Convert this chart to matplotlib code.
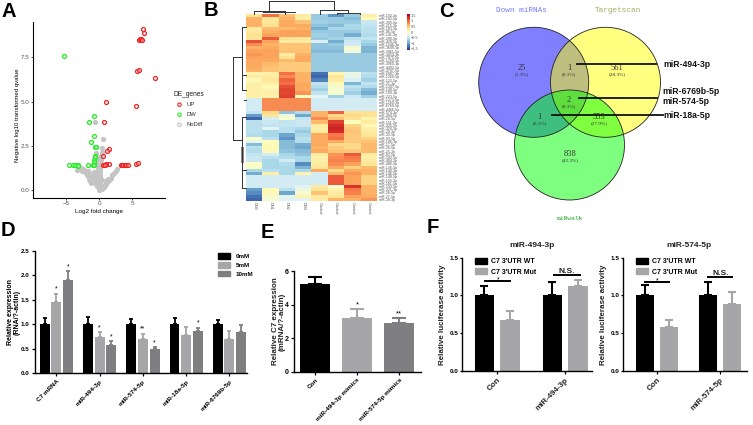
import numpy as np
import matplotlib
matplotlib.use("Agg")
import matplotlib.pyplot as plt
from matplotlib.patches import Circle, Patch

plt.rcParams["font.family"] = ["Liberation Sans", "DejaVu Sans"]

W, H = 753, 425
BLACK = "#000000"
GREY1 = "#a6a6a9"
GREY2 = "#7f7f82"

# panel A
up_x = [6.6, 6.8, 6.0, 6.2, 6.4, 6.5, 5.8, 6.05, 8.5, 1.0, 5.65, 0.75, 1.55, 1.15, 0.65, 1.5, 1.1, 0.8,
        0.6, 0.95, 5.55, 5.9, 3.3, 3.5, 3.7, 3.9, 4.1, 4.4]
up_y = [9.08, 8.85, 8.5, 8.55, 8.55, 8.5, 6.73, 6.78, 6.35, 5.0, 4.76, 3.87, 2.3, 2.2, 1.9, 1.5, 1.45, 1.43,
        1.43, 1.43, 1.48, 1.55, 1.43, 1.43, 1.43, 1.43, 1.43, 1.43]
dw_x = [-5.25, -0.8, -1.5, -0.8, -1.2, -0.6, -0.5, -0.6, -0.65, -0.7, -0.75, -4.5, -3.9, -3.6, -3.2, -3.15,
        -1.65, -0.85, -0.75]
dw_y = [7.57, 4.2, 3.87, 3.05, 2.7, 2.43, 2.43, 1.9, 1.85, 1.7, 1.6, 1.43, 1.43, 1.43, 1.43, 1.35,
        1.43, 1.43, 1.43]
no_x = [-0.55, 0.6, 0.4, 0.4, 0.35, -0.5, -0.55, 0.2, 0.1, 0.3, -0.2, -0.1, 0.05, 0.15, -0.25, 0.0, 0.1, -0.15,
        0.2, -0.05, 0.05, -0.1, 0.15, 0.0, -0.2, 0.1, 0.25, -0.05, 0.0, 0.1, -0.15, 0.05, 0.15, 0.0, 0.1, 0.05,
        -3.4, -3.0, -2.7, -2.5, -2.3, -2.2, -2.0, -1.9, -1.8, -1.7, -1.5, -1.4, -1.3, -1.35, -1.2, -1.5, -1.6,
        -2.6, -2.1, -1.7, -1.55, -1.25, -1.1, -0.95,
        -0.8, -0.7, -0.65, -0.6, -0.5, -0.4, -0.3,
        2.8, 2.5, 2.3, 2.15, 2.0, 1.85, 1.7, 1.5, 1.3, 1.2, 1.1, 1.0, 0.9, 0.8, 0.7, 0.6, 0.5, 0.4, 0.9, 1.2, 1.4]
no_y = [3.87, 2.9, 2.35, 2.15, 1.95, 2.1, 1.95, 1.85, 1.75, 1.7, 1.65, 1.55, 1.5, 1.45, 1.35, 1.3, 1.2, 1.15,
        1.1, 1.05, 0.95, 0.9, 0.85, 0.8, 0.75, 0.7, 0.65, 0.6, 0.5, 0.45, 0.4, 0.35, 0.3, 0.2, 0.1, 0.03,
        1.15, 1.2, 1.25, 1.2, 1.15, 1.05, 1.0, 0.95, 0.85, 0.8, 0.75, 0.65, 0.6, 0.5, 0.4, 0.95, 1.05,
        1.05, 1.1, 1.0, 0.6, 0.75, 0.55, 0.45,
        1.0, 0.85, 0.7, 0.55, 0.45, 0.35, 0.25,
        1.2, 1.05, 0.95, 0.9, 0.85, 0.7, 0.6, 0.55, 0.5, 0.45, 0.4, 0.35, 0.3, 0.25, 0.2, 0.15, 0.12, 0.08, 0.5, 0.55, 0.65]

# panel B
heat_rows = [
    [.25, .95, .5, .2, -.75, -1.1, -.75, .15],
    [.6, .25, .6, .15, -.75, -.75, -.85, .05],
    [.6, .25, .65, .5, -.7, -.75, -.75, -.45],
    [.6, .3, .65, .65, -.8, -.85, -.65, -.5],
    [.2, .55, .55, .6, -.95, -.65, -.65, -.55],
    [.2, .6, .7, .7, -.75, -.75, -.75, -.55],
    [.3, .7, .7, .7, -.7, -.75, -.95, -.6],
    [.25, 1.05, .3, .25, -.75, -.7, -.55, -.5],
    [1.1, .7, .2, .2, -.35, -.95, -.45, -.65],
    [.8, .6, .5, .5, -.8, -.75, -.4, -.75],
    [.6, .65, .5, .5, -.8, -.8, -.1, -.9],
    [.7, .7, .5, .5, -.85, -.85, -.15, -.9],
    [.75, .7, .2, .6, -.75, -.75, -.75, -.75],
    [.7, .7, .3, .65, -.75, -.75, -.75, -.75],
    [.65, .65, .55, .65, -.75, -.75, -.75, -.75],
    [.65, .55, .45, .45, -.75, -.75, -.75, -.75],
    [.65, .5, .45, .45, -.75, -.75, -.75, -.75],
    [.6, .5, .45, .45, -.75, -.75, -.75, -.75],
    [.1, .15, .95, .6, -1.3, .1, -.2, -.55],
    [.2, .2, .8, .6, -1.35, .25, -.25, -.6],
    [.05, .25, 1.0, .6, -1.2, .2, -.35, -.7],
    [.15, .15, .95, .65, -.5, .05, -.9, -.5],
    [.15, .05, 1.1, .65, -.6, -.1, -.55, -.6],
    [.15, .1, 1.15, .65, -.7, -.1, -.6, -.85],
    [.15, .15, 1.15, .75, -.5, -.1, -.7, -.95],
    [.15, .1, 1.2, .0, -.3, -.7, -.45, -.7],
    [-.4, .8, .8, .8, -.4, -.4, -.4, -.4],
    [-.4, .8, .8, .8, -.4, -.4, -.4, -.4],
    [-.4, .8, .8, .8, -.4, -.4, -.4, -.4],
    [-.4, .8, .8, .8, -.4, -.4, -.4, -.4],
    [-.5, .35, -.8, -.6, .6, 1.0, .3, .3],
    [-1.05, .25, -.2, -1.0, .6, .35, .35, .3],
    [-1.35, -.4, -.05, -.5, .8, .5, .3, .1],
    [-.55, -.45, -.5, -.45, .55, 1.2, .0, .2],
    [-.55, -.5, -.5, -.45, .2, 1.3, .4, .05],
    [-.55, -.3, -.55, -.65, .15, 1.35, .45, .15],
    [-.55, -.65, -.55, -.75, .2, 1.3, .5, .2],
    [-.6, -.65, -1.0, -.65, .65, .9, .45, .25],
    [-.05, -.55, -1.1, -.55, .65, .95, .45, .4],
    [-.25, .0, -.85, -.6, .65, .65, .45, .5],
    [-.85, .05, -.85, -.95, .65, .35, .35, .55],
    [-.55, .05, -.85, -1.0, .6, .45, .35, .55],
    [-.6, .05, -.8, -.85, .65, .5, .45, .55],
    [-.5, -.4, -.65, -.8, .2, .75, 1.05, .2],
    [-.45, -.55, -.6, -.65, .15, .8, .9, .15],
    [-.45, -.65, -.4, -.65, .15, .85, .85, .2],
    [-.05, -.65, -.6, -1.15, .2, .8, .7, .25],
    [-.05, -.65, -.65, -.9, .25, .65, .4, .55],
    [-.65, -.55, -.65, -.65, .65, .35, .65, .6],
    [-.95, .15, -.65, .1, -.4, .55, .75, .6],
    [-.4, -.4, -.4, -.4, -.4, 1.05, .7, .4],
    [-.4, -.4, -.4, -.4, -.4, 1.05, .7, .4],
    [-.4, -.4, -.4, -.4, -.4, 1.05, .7, .4],
    [-.4, -.4, -.4, -.3, .2, -.1, 1.25, .6],
    [-1.05, .05, -.55, -.2, .25, .1, .9, .6],
    [-1.15, .05, -1.0, -.1, .5, .2, .85, .6],
    [-1.3, -.1, -.3, .1, .2, .25, .7, .65],
    [-1.35, -.1, -.3, -.3, .2, .6, .6, .75],
]
heat_cols = ["DN3", "DN1", "DN2", "DN4", "Control", "Control", "Control", "Control"]
mirna_nums = [192, 182, 205, 215, 183, 96, 141, 200, 429, 1246, 3609, 2861, 4454, 7975, 1290, 3960, 4492, 4787,
              6087, 1268, 122, 21, 1307, 149, 199, 223, 1273, 1260, 6769, 4466, 574, 494, 18, 151, 425, 320,
              29, 30, 93, 106, 17, 20, 25, 92, 342, 484, 486, 126, 140, 146, 148, 155, 181, 193, 221, 26, 27, 28]
heat_names = [f"miR-{n}-{'3p' if i % 3 == 0 else '5p'}" for i, n in enumerate(mirna_nums)]
cbar_ticks = [1.5, 1, 0.5, 0, -0.5, -1, -1.5]

# panel C
venn_labels = ["25", "1", "561", "2", "1", "553", "838"]
venn_pcts = ["(1.3%)", "(0.1%)", "(28.3%)", "(0.1%)", "(0.1%)", "(27.9%)", "(42.3%)"]

# panel D
d_groups = ["C7 mRNA", "miR-494-3p", "miR-574-5p", "miR-18a-5p", "miR-6769b-5p"]
d_doses = ["0mM", "5mM", "10mM"]
d_vals = [[1.0, 1.46, 1.9], [1.0, 0.75, 0.58], [1.0, 0.7, 0.49], [1.0, 0.79, 0.87], [1.0, 0.69, 0.85]]
d_errs = [[0.12, 0.16, 0.18], [0.15, 0.09, 0.07], [0.1, 0.11, 0.04], [0.12, 0.15, 0.06], [0.09, 0.18, 0.14]]
d_stars = [["", "*", "*"], ["", "*", "*"], ["", "**", "*"], ["", "", "*"], ["", "", ""]]

# panel E
e_names = ["Con", "miR-494-3p mimics", "miR-574-5p mimics"]
e_vals = [5.25, 3.2, 2.9]
e_errs = [0.4, 0.55, 0.3]
e_stars = ["", "*", "**"]

# panel F
f1_names = ["Con", "miR-494-3p"]
f1_wt = [1.0, 1.0]
f1_wt_err = [0.12, 0.18]
f1_mut = [0.68, 1.12]
f1_mut_err = [0.11, 0.09]
f2_names = ["Con", "miR-574-5p"]
f2_wt = [1.0, 1.0]
f2_wt_err = [0.14, 0.18]
f2_mut = [0.58, 0.89]
f2_mut_err = [0.1, 0.15]

fig = plt.figure(figsize=(W / 100, H / 100), dpi=100)


def px_axes(left, top, right, bottom):
    return fig.add_axes([left / W, 1 - bottom / H, (right - left) / W, (bottom - top) / H])


over = fig.add_axes([0, 0, 1, 1], zorder=5)
over.set_xlim(0, W)
over.set_ylim(H, 0)
over.axis("off")

for letter, lx, ly in [("A", 1, 11), ("B", 204, 10), ("C", 439, 11), ("D", 1, 230), ("E", 261, 232), ("F", 427, 227)]:
    over.text(lx, ly, letter, fontsize=14.5, fontweight="bold", va="center", ha="left")

# A: volcano
ax = px_axes(33, 22, 165, 198)
for xs, ys, c in [(no_x, no_y, "#c4c4c4"), (dw_x, dw_y, "#22ee22"), (up_x, up_y, "#ee2222")]:
    ax.scatter(xs, ys, s=8, facecolors=c if c == "#c4c4c4" else "#ffffff55", edgecolors=c, linewidths=0.9)
ax.set_xlim(-10, 10)
ax.set_ylim(-0.45, 9.5)
ax.set_xticks([-5, 0, 5])
ax.set_yticks([0, 2.5, 5, 7.5])
ax.set_yticklabels(["0.0", "2.5", "5.0", "7.5"])
ax.tick_params(labelsize=4.5, labelcolor="#555555", length=1.5, width=0.5, pad=1)
ax.spines[["top", "right"]].set_visible(False)
ax.spines[["left", "bottom"]].set_linewidth(0.8)
ax.set_xlabel("Log2 fold change", fontsize=4.5, labelpad=1.5)
ax.set_ylabel("Negative log10 transformed qvalue", fontsize=4.3)
ax.yaxis.set_label_coords(-0.098, 0.47)
over.text(174, 94, "DE_genes", fontsize=4.8, va="center", color="#222222")
for name, c, ly in [("UP", "#ee2222", 104.7), ("DW", "#22ee22", 114.7), ("NoDiff", "#c4c4c4", 124.7)]:
    over.scatter([179.5], [ly], s=6, facecolors="none", edgecolors=c, linewidths=0.8)
    over.text(187, ly, name, fontsize=4.2, va="center", color="#333333")

# B: heatmap
ax = px_axes(246, 14, 377, 201)
ax.imshow(np.array(heat_rows), cmap="RdYlBu_r", vmin=-1.6, vmax=1.6, aspect="auto", interpolation="nearest")
ax.set_xticks(range(len(heat_cols)))
ax.set_xticklabels(heat_cols, rotation=270, fontsize=2.8, color="#555555")
ax.yaxis.tick_right()
ax.set_yticks(range(len(heat_names)))
ax.set_yticklabels(heat_names, fontsize=2.6, color="#555555")
ax.tick_params(length=0, pad=1)
for s in ax.spines.values():
    s.set_visible(False)

cax = px_axes(407, 14, 409.5, 50)
cax.imshow(np.linspace(1.6, -1.6, 60)[:, None], cmap="RdYlBu_r", vmin=-1.6, vmax=1.6, aspect="auto",
           extent=[0, 1, -1.6, 1.6])
cax.set_xticks([])
cax.yaxis.tick_right()
cax.set_yticks(cbar_ticks)
cax.set_yticklabels(["1.5", "1", "0.5", "0", "\u22120.5", "\u22121", "\u22121.5"], fontsize=2.8, color="#555555")
cax.tick_params(length=0, pad=1)
for s in cax.spines.values():
    s.set_visible(False)

# dendrograms, drawn in the picture's own pixel frame
col_tree = [(269, 1, 334, 1), (269, 1, 269, 11), (334, 1, 334, 10), (254, 11, 285, 11), (254, 11, 254, 14),
            (285, 11, 285, 14), (263, 12, 295, 12), (320, 10, 348, 10), (320, 10, 320, 14), (348, 10, 348, 13),
            (337, 13, 360, 13), (337, 13, 337, 14), (360, 13, 360, 14)]
row_tree = [(233, 57, 233, 140), (233, 57, 242, 57), (233, 140, 242, 140), (242, 27, 242, 90), (242, 27, 246, 27),
            (242, 90, 246, 90), (243, 75, 246, 75), (242, 117, 242, 188), (242, 117, 246, 117), (242, 188, 246, 188),
            (243, 170, 246, 170), (244, 100, 246, 100)]
for x0, y0, x1, y1 in col_tree + row_tree:
    over.plot([x0, x1], [y0, y1], color="#333333", lw=0.7)
over.fill_between([241, 244], [147, 147], [163, 163], color="#888888", lw=0)

# C: venn
for cx, cy, c in [(533.7, 82.3, "#0000ff"), (605.5, 82.3, "#ffff00"), (569.5, 145, "#00ff00")]:
    over.add_patch(Circle((cx, cy), 55, facecolor=c, alpha=0.5, edgecolor="none"))
for cx, cy in [(533.7, 82.3), (605.5, 82.3), (569.5, 145)]:
    over.add_patch(Circle((cx, cy), 55, facecolor="none", edgecolor="#222222", lw=0.6))
venn_pos = [(521.5, 68), (569, 68), (617, 68), (569, 100), (539.5, 117), (599, 117), (570, 154)]
serif = ["Liberation Serif", "DejaVu Serif"]
for (vx, vy), lab, pct in zip(venn_pos, venn_labels, venn_pcts):
    over.text(vx, vy, lab, fontsize=6, family=serif, ha="center", va="center", color="#333333")
    over.text(vx, vy + 6, pct, fontsize=3.8, family=serif, ha="center", va="center", color="#333333")
over.text(521.5, 10.5, "Down miRNAs", fontsize=5.5, family="Liberation Mono", ha="center", va="center", color="#7878ff")
over.text(617.5, 10.5, "Targetscan", fontsize=5.5, family="Liberation Mono", ha="center", va="center", color="#a8a860")
over.text(569.5, 218, "miRwalk", fontsize=4.5, family="Liberation Mono", fontweight="bold", ha="center", va="center",
          color="#55bb55")
for x0, y0, x1, name, tx, ty in [(577, 63.5, 656, "miR-494-3p", 663, 64),
                                 (579, 97.5, 657, "miR-6769b-5p", 662, 91.7),
                                 (552, 115, 663, "miR-18a-5p", 663, 115)]:
    over.plot([x0, x1], [y0, y0], color="#111111", lw=1.3)
    over.text(tx, ty, name, fontsize=6.2, fontweight="bold", va="center", color="#111111")
over.text(662, 101.7, "miR-574-5p", fontsize=6.2, fontweight="bold", va="center", color="#111111")


def style_bar_axis(ax, labelsize):
    ax.spines[["top", "right"]].set_visible(False)
    ax.spines[["left", "bottom"]].set_linewidth(1.0)
    ax.tick_params(labelsize=labelsize, length=2.5, width=0.9, pad=1.5)
    for t in ax.get_yticklabels():
        t.set_fontweight("bold")


def bars(ax, xs, vals, errs, colors, width, cap, lw):
    ax.bar(xs, vals, width=width, color=colors)
    for x, v, e, c in zip(xs, vals, errs, colors):
        ax.errorbar([x], [v], yerr=[[0], [e]], ecolor=c, capsize=cap, elinewidth=lw, capthick=lw, fmt="none")


# D
ax = px_axes(35, 250.7, 247, 373.3)
dose_colors = [BLACK, GREY1, GREY2]
d_centres = []
for g in range(len(d_groups)):
    xs = [g * 3.7 + j for j in range(3)]
    d_centres.append(xs[1])
    bars(ax, xs, d_vals[g], d_errs[g], dose_colors, 0.85, 1.6, 1.3)
    for x, v, e, st in zip(xs, d_vals[g], d_errs[g], d_stars[g]):
        if st:
            ax.text(x, v + e + 0.02, st, fontsize=5, ha="center", va="bottom")
ax.set_xlim(-0.83, 17.3)
ax.set_ylim(0, 2.5)
ax.set_yticks([0, 0.5, 1, 1.5, 2, 2.5])
ax.set_yticklabels(["0.0", "0.5", "1.0", "1.5", "2.0", "2.5"])
ax.set_xticks(d_centres)
ax.set_xticklabels(d_groups, rotation=45, ha="right", rotation_mode="anchor", fontweight="bold")
style_bar_axis(ax, 4.5)
ax.tick_params(axis="x", labelsize=4.6)
ax.set_ylabel("Relative expression\n(RNA/?-actin)", fontsize=5, fontweight="bold", linespacing=1.0)
ax.yaxis.set_label_coords(-0.066, 0.5)
ax.legend([Patch(color=c) for c in dose_colors], d_doses, loc="upper right", bbox_to_anchor=(1.04, 1.0), frameon=False,
          prop={"size": 4.5, "weight": "bold"}, handlelength=2.0, handleheight=1.0, labelspacing=0.45, handletextpad=0.8,
          borderaxespad=0)

# E
ax = px_axes(294.3, 271, 420.7, 372)
e_x = [0, 1, 2]
bars(ax, e_x, e_vals, e_errs, dose_colors, 0.71, 5, 1.5)
for x, v, e, st in zip(e_x, e_vals, e_errs, e_stars):
    if st:
        ax.text(x, v + e + 0.02, st, fontsize=5.5, ha="center", va="bottom")
ax.set_xlim(-0.5, 2.51)
ax.set_ylim(0, 6)
ax.set_yticks([0, 2, 4, 6])
ax.set_xticks(e_x)
ax.set_xticklabels(e_names, rotation=45, ha="right", rotation_mode="anchor", fontweight="bold")
style_bar_axis(ax, 5)
ax.tick_params(axis="x", labelsize=4.6)
ax.set_ylabel("Relative C7 expression\n(mRNA/?-actin)", fontsize=5.8, fontweight="bold", linespacing=1.0,
              color="#222222")
ax.yaxis.set_label_coords(-0.066, 0.5)


# F
def luc_panel(box, xs, width, wt, wt_err, mut, mut_err, names, title, title_x, star_span, ns_span, label_x):
    ax = px_axes(*box)
    for i in range(2):
        bars(ax, xs[i * 2:i * 2 + 2], [wt[i], mut[i]], [wt_err[i], mut_err[i]], [BLACK, GREY1], width, 2.9, 1.5)
    ax.set_xlim(box[0], box[2])
    ax.set_ylim(0, 1.5)
    ax.set_yticks([0, 0.5, 1, 1.5])
    ax.set_yticklabels(["0.0", "0.5", "1.0", "1.5"])
    ax.set_xticks([(xs[0] + xs[1]) / 2, (xs[2] + xs[3]) / 2])
    ax.set_xticklabels(names, rotation=45, ha="right", rotation_mode="anchor", fontweight="bold", color="#222222")
    style_bar_axis(ax, 4.6)
    ax.tick_params(axis="x", labelsize=5.8)
    ax.tick_params(axis="y", length=1.8, pad=1)
    ax.set_ylabel("Relative luciferase activity", fontsize=5.8, fontweight="bold", color="#222222")
    ax.yaxis.set_label_coords(label_x, 0.5)
    x0, x1, y = star_span
    ax.plot([x0, x1], [y, y], color="black", lw=1.4)
    ax.text((x0 + x1) / 2, y + 0.015, "*", fontsize=5, ha="center", va="center")
    x0, x1, y = ns_span
    ax.plot([x0, x1], [y, y], color="black", lw=1.4)
    ax.text((x0 + x1) / 2, y, "N.S.", fontsize=6, fontweight="bold", ha="center", va="bottom", color="#222222")
    ax.legend([Patch(color=BLACK), Patch(color=GREY1)], ["C7 3'UTR WT", "C7 3'UTR Mut"], loc="upper left",
              bbox_to_anchor=(0.08, 1.025), frameon=False, prop={"size": 5, "weight": "bold"}, handlelength=1.7,
              handleheight=1.0, labelspacing=0.45, handletextpad=0.6, borderaxespad=0)
    over.text(title_x, 245, title, fontsize=6, fontweight="bold", ha="center", va="center", color="#222222")


luc_panel((462.3, 257.7, 591.7, 371), [484.3, 510, 552.3, 578], 19.3, f1_wt, f1_wt_err, f1_mut, f1_mut_err,
          f1_names, "miR-494-3p", 531.7, (485, 510.5, 1.197), (554, 579.5, 1.267), -0.125)
luc_panel((623.3, 257.7, 746.7, 371), [645.3, 669, 708.3, 731.7], 17.7, f2_wt, f2_wt_err, f2_mut, f2_mut_err,
          f2_names, "miR-574-5p", 689, (645, 669.5, 1.18), (708.5, 732.5, 1.25), -0.13)

fig.savefig("out.png", dpi=100)
